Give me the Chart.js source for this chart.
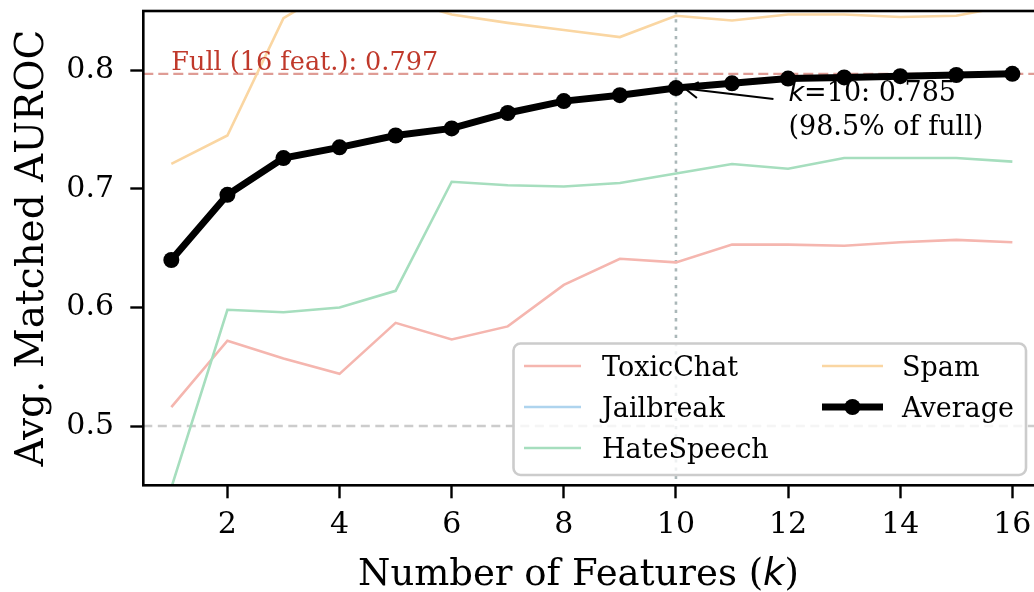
<!DOCTYPE html>
<html>
<head>
<meta charset="utf-8">
<script src="https://cdn.jsdelivr.net/npm/chart.js@4.4.1/dist/chart.umd.min.js"></script>
<style>
  html, body { margin: 0; padding: 0; background: #fff; overflow: hidden; }
  #wrap { width: 1050px; height: 592px; }
</style>
</head>
<body>
<div id="wrap"><canvas id="c" width="1050" height="592"></canvas></div>
<script>
// Feature-count sweep: AUROC per dataset and their mean
const kValues    = [1, 2, 3, 4, 5, 6, 7, 8, 9, 10, 11, 12, 13, 14, 15, 16];
const toxicChat  = [0.516, 0.572, 0.557, 0.544, 0.587, 0.573, 0.584, 0.619, 0.641, 0.638, 0.653, 0.653, 0.652, 0.655, 0.657, 0.655];
const jailbreak  = [0.875, 0.865, 0.907, 0.924, 0.918, 0.878, 0.929, 0.941, 0.942, 0.943, 0.940, 0.955, 0.951, 0.954, 0.955, 0.955];
const hateSpeech = [0.448, 0.598, 0.596, 0.600, 0.614, 0.706, 0.703, 0.702, 0.705, 0.713, 0.721, 0.717, 0.726, 0.726, 0.726, 0.723];
const spam       = [0.721, 0.745, 0.844, 0.872, 0.861, 0.847, 0.840, 0.834, 0.828, 0.846, 0.842, 0.847, 0.847, 0.845, 0.846, 0.855];
const average    = [0.640, 0.695, 0.726, 0.735, 0.745, 0.751, 0.764, 0.774, 0.779, 0.785, 0.789, 0.793, 0.794, 0.795, 0.796, 0.797];

const xTickValues = [2, 4, 6, 8, 10, 12, 14, 16];
const yTickValues = [0.5, 0.6, 0.7, 0.8];
const fullScore   = 0.797;
const chanceLevel = 0.5;
const highlightK  = 10;

const SERIF = '"DejaVu Serif", serif';
const SANS  = '"DejaVu Sans", sans-serif';

const toPoints = vals => kValues.map((k, i) => ({ x: k, y: vals[i] }));

function thinSeries(label, vals, color, order) {
  return {
    label, data: toPoints(vals), borderColor: color, backgroundColor: color,
    borderWidth: 2.6, pointRadius: 0, tension: 0, clip: 0, order
  };
}

const datasets = [
  thinSeries('ToxicChat', toxicChat, 'rgb(245,182,175)', 4),
  thinSeries('Jailbreak', jailbreak, 'rgb(174,212,238)', 3),
  thinSeries('HateSpeech', hateSpeech, 'rgb(166,222,190)', 2),
  thinSeries('Spam', spam, 'rgb(250,214,162)', 1),
  {
    label: 'Average', data: toPoints(average), borderColor: '#000', backgroundColor: '#000',
    borderWidth: 7, pointRadius: 8, pointBorderWidth: 0, pointBackgroundColor: '#000',
    tension: 0, clip: 0, order: 0
  }
];

// reference lines under the data
const refLines = {
  id: 'refLines',
  beforeDatasetsDraw(chart) {
    const { ctx, chartArea: a, scales: { x, y } } = chart;
    ctx.save();
    ctx.beginPath();
    ctx.rect(a.left, a.top, a.right - a.left, a.bottom - a.top);
    ctx.clip();
    const hline = (py) => { ctx.beginPath(); ctx.moveTo(a.left, py); ctx.lineTo(a.right, py); ctx.stroke(); };

    ctx.lineWidth = 2.4;
    ctx.setLineDash([9, 5.5]);
    ctx.strokeStyle = 'rgb(204,204,204)';
    hline(y.getPixelForValue(chanceLevel));

    ctx.setLineDash([10, 5]);
    ctx.strokeStyle = 'rgba(192,57,43,0.5)';
    hline(y.getPixelForValue(fullScore));

    ctx.setLineDash([3.3, 5]);
    ctx.lineWidth = 2.6;
    ctx.strokeStyle = 'rgba(149,165,166,0.8)';
    const px = x.getPixelForValue(highlightK);
    ctx.beginPath(); ctx.moveTo(px, a.top); ctx.lineTo(px, a.bottom); ctx.stroke();
    ctx.restore();
  }
};

// labels, annotation, legend and frame on top of the data
const overlay = {
  id: 'overlay',
  afterDatasetsDraw(chart) {
    const { ctx, chartArea: a, scales: { x, y } } = chart;
    ctx.save();

    // full-model reference label
    ctx.fillStyle = '#c0392b';
    ctx.font = '25.5px ' + SERIF;
    ctx.textAlign = 'left';
    ctx.textBaseline = 'alphabetic';
    ctx.fillText('Full (' + kValues.length + ' feat.): ' + fullScore.toFixed(3),
                 x.getPixelForValue(kValues[0]), y.getPixelForValue(fullScore) - 4);

    // highlighted k annotation with arrow
    const idx = kValues.indexOf(highlightK);
    const val = average[idx];
    const px = x.getPixelForValue(highlightK), py = y.getPixelForValue(val);
    const tx = px + 112.5, ty = py + 13;
    ctx.fillStyle = '#000';
    ctx.font = 'italic 27px ' + SANS;
    ctx.fillText('k', tx, ty);
    const kw = ctx.measureText('k').width;
    ctx.font = '27px ' + SERIF;
    ctx.fillText('=' + highlightK + ': ' + val.toFixed(3), tx + kw, ty);
    ctx.fillText('(' + (val / fullScore * 100).toFixed(1) + '% of full)', tx, ty + 34);

    const sx = px + 97.5, sy = py + 11, ex = px + 9, ey = py + 0.5;
    ctx.strokeStyle = '#000';
    ctx.lineWidth = 2;
    ctx.beginPath(); ctx.moveTo(sx, sy); ctx.lineTo(ex, ey); ctx.stroke();
    const len = Math.hypot(sx - ex, sy - ey);
    const dx = (sx - ex) / len, dy = (sy - ey) / len;
    const L = 13, W = 8;
    ctx.beginPath();
    ctx.moveTo(ex + L * dx - W * dy, ey + L * dy + W * dx);
    ctx.lineTo(ex, ey);
    ctx.lineTo(ex + L * dx + W * dy, ey + L * dy - W * dx);
    ctx.stroke();

    // legend
    const lx = 513.5, ly = 343.5, lw = 512.5, lh = 131.5, r = 7;
    ctx.beginPath();
    ctx.moveTo(lx + r, ly);
    ctx.arcTo(lx + lw, ly, lx + lw, ly + lh, r);
    ctx.arcTo(lx + lw, ly + lh, lx, ly + lh, r);
    ctx.arcTo(lx, ly + lh, lx, ly, r);
    ctx.arcTo(lx, ly, lx + lw, ly, r);
    ctx.closePath();
    ctx.fillStyle = 'rgba(255,255,255,0.8)';
    ctx.fill();
    ctx.strokeStyle = 'rgb(204,204,204)';
    ctx.lineWidth = 2.6;
    ctx.stroke();

    const rows = [366, 407, 448];
    const cols = [{ h0: 524, h1: 581, t: 602 }, { h0: 822, h1: 883, t: 902 }];
    const entries = [0, 1, 2, 3, 4];
    entries.forEach((di, n) => {
      const ds = chart.data.datasets[di];
      const col = cols[n < 3 ? 0 : 1];
      const ry = rows[n < 3 ? n : n - 3];
      ctx.strokeStyle = ds.borderColor;
      ctx.lineWidth = ds.borderWidth;
      ctx.beginPath(); ctx.moveTo(col.h0, ry); ctx.lineTo(col.h1, ry); ctx.stroke();
      if (ds.pointRadius) {
        ctx.fillStyle = ds.pointBackgroundColor;
        ctx.beginPath(); ctx.arc((col.h0 + col.h1) / 2, ry, ds.pointRadius, 0, Math.PI * 2); ctx.fill();
      }
      ctx.fillStyle = '#000';
      ctx.font = '27px ' + SERIF;
      ctx.fillText(ds.label, col.t, ry + 10);
    });

    // frame
    ctx.strokeStyle = '#000';
    ctx.lineWidth = 2.6;
    ctx.strokeRect(a.left, a.top, a.right - a.left, a.bottom - a.top);

    // axis titles
    ctx.fillStyle = '#000';
    const xs = 37;
    ctx.font = xs + 'px ' + SERIF;
    const t1 = 'Number of Features (', t3 = ')';
    const w1 = ctx.measureText(t1).width, w3 = ctx.measureText(t3).width;
    ctx.font = 'italic ' + xs + 'px ' + SANS;
    const w2 = ctx.measureText('k').width;
    let cx = 358;
    const by = 585;
    ctx.font = xs + 'px ' + SERIF; ctx.fillText(t1, cx, by); cx += w1;
    ctx.font = 'italic ' + xs + 'px ' + SANS; ctx.fillText('k', cx, by); cx += w2;
    ctx.font = xs + 'px ' + SERIF; ctx.fillText(t3, cx, by);

    ctx.font = '39px ' + SERIF;
    ctx.translate(42.5, (a.top + a.bottom) / 2);
    ctx.rotate(-Math.PI / 2);
    ctx.textAlign = 'center';
    ctx.fillText('Avg. Matched AUROC', 0, 0);
    ctx.restore();
  }
};

new Chart(document.getElementById('c'), {
  type: 'line',
  data: { datasets },
  options: {
    responsive: false,
    animation: false,
    devicePixelRatio: 1,
    layout: { padding: { top: 11, right: 9.6, left: 0, bottom: 0 } },
    plugins: { legend: { display: false }, tooltip: { enabled: false } },
    scales: {
      x: {
        type: 'linear', min: 0.5, max: 16.5,
        border: { display: false },
        grid: { drawOnChartArea: false, drawTicks: true, tickLength: 13, tickWidth: 2.4, tickColor: '#000' },
        ticks: { font: { family: SERIF, size: 30, lineHeight: 1 }, color: '#000', padding: 11.7,
                 maxRotation: 0, autoSkip: false, callback: v => String(v) },
        afterBuildTicks: s => { s.ticks = xTickValues.map(v => ({ value: v })); },
        afterFit: s => { s.height = 106.7; s.paddingLeft = 0; s.paddingRight = 0; }
      },
      y: {
        type: 'linear', min: 0.45, max: 0.85,
        border: { display: false },
        grid: { drawOnChartArea: false, drawTicks: true, tickLength: 13, tickWidth: 2.4, tickColor: '#000' },
        ticks: { font: { family: SERIF, size: 30, lineHeight: 1 }, color: '#000', padding: 16.3,
                 autoSkip: false, callback: v => v.toFixed(1) },
        afterBuildTicks: s => { s.ticks = yTickValues.map(v => ({ value: v })); },
        afterFit: s => { s.width = 143.3; s.paddingTop = 0; s.paddingBottom = 0; }
      }
    }
  },
  plugins: [refLines, overlay]
});
</script>
</body>
</html>
